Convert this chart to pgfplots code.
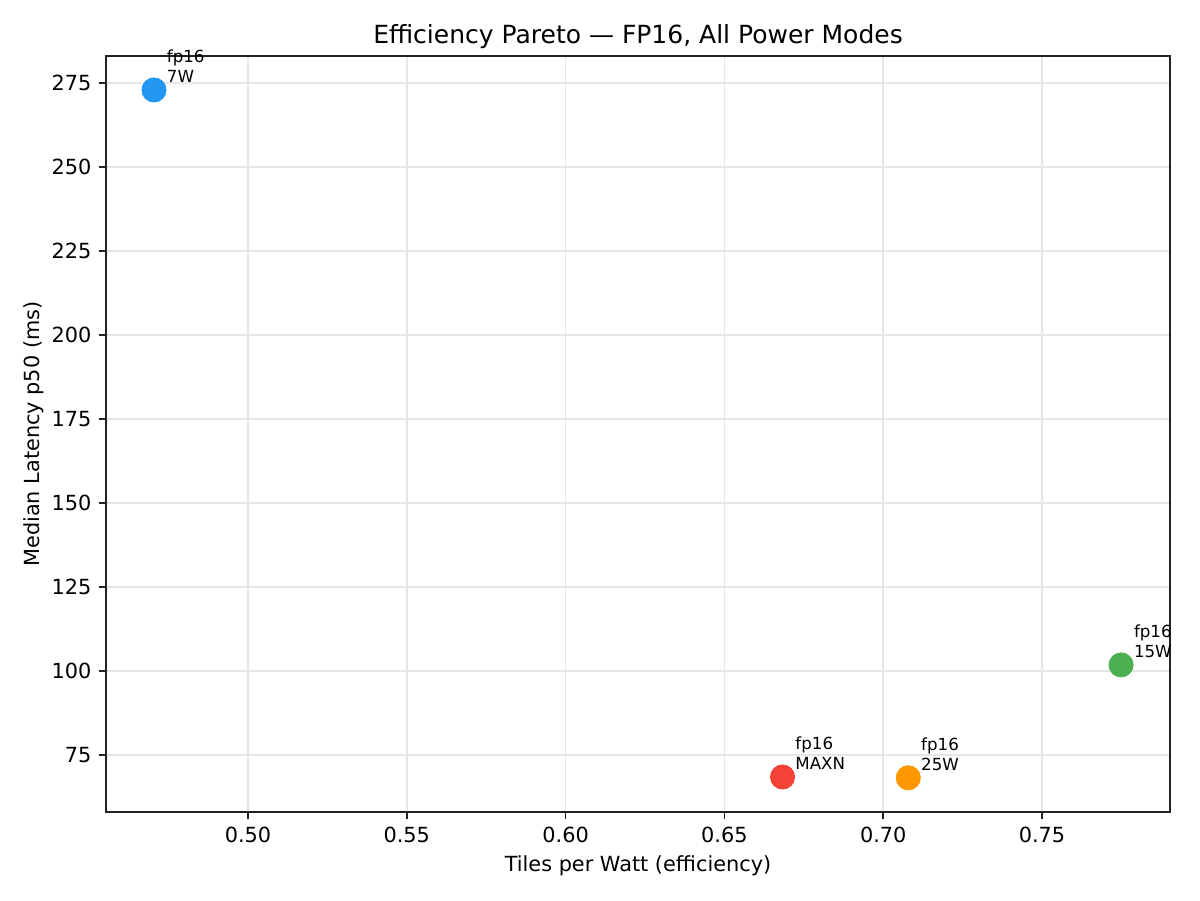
\documentclass[border=0pt]{standalone}
\usepackage{fontspec}
\setmainfont{DejaVu Sans}
\usepackage{pgfplots}
\pgfplotsset{compat=1.18}

\definecolor{c7w}{HTML}{2196F3}
\definecolor{cmaxn}{HTML}{F44336}
\definecolor{c25w}{HTML}{FF9800}
\definecolor{c15w}{HTML}{4CAF50}
\definecolor{spine}{HTML}{222222}
\definecolor{gridc}{HTML}{E6E6E6}

\tikzset{lab/.style={anchor=south west, inner sep=0pt, align=left,
    font=\fontsize{8}{9.6}\selectfont, xshift=6pt, yshift=3.4pt}}

\begin{document}
\begin{tikzpicture}
\begin{axis}[
  scale only axis,
  width=510.7pt, height=362.9pt,
  xmin=0.4553, xmax=0.7903,
  ymin=58.0, ymax=283.0,
  xtick={0.50,0.55,0.60,0.65,0.70,0.75},
  ytick={75,100,125,150,175,200,225,250,275},
  xticklabel style={/pgf/number format/fixed,/pgf/number format/fixed zerofill,/pgf/number format/precision=2},
  /pgf/number format/assume math mode=true,
  tick label style={font=\fontsize{10}{12}\selectfont},
  label style={font=\fontsize{10}{12}\selectfont},
  title style={font=\fontsize{12}{14}\selectfont, yshift=-6pt},
  title={Efficiency Pareto — FP16, All Power Modes},
  xlabel={Tiles per Watt (efficiency)},
  ylabel={Median Latency p50 (ms)},
  tick align=outside, tick pos=left,
  major tick length=3.5pt,
  every tick/.style={spine, line width=0.8pt},
  axis line style={spine, line width=0.8pt},
  grid=major,
  major grid style={gridc, line width=0.7pt},
  xlabel style={yshift=0.5pt},
  ylabel style={yshift=-3pt},
  clip=false,
]
% one marker per power mode (fp16)
\addplot[only marks, mark=*, mark size=5.8pt, color=c7w]
  coordinates {(0.4704, 272.9)};
\addplot[only marks, mark=*, mark size=5.8pt, color=cmaxn]
  coordinates {(0.6683, 68.45)};
\addplot[only marks, mark=*, mark size=5.8pt, color=c25w]
  coordinates {(0.7079, 68.2)};
\addplot[only marks, mark=*, mark size=5.8pt, color=c15w]
  coordinates {(0.7749, 101.8)};

\coordinate (sw) at (rel axis cs:0,0);
\coordinate (ne) at (rel axis cs:1,1);

\node[lab] at (axis cs:0.4704, 272.9) {fp16\\7W};
\node[lab] at (axis cs:0.6683, 68.45) {fp16\\MAXN};
\node[lab] at (axis cs:0.7079, 68.2) {fp16\\25W};
% the right-hand label is cut at the frame
\begin{scope}
  \clip (rel axis cs:0.9,0.1) rectangle (rel axis cs:1,0.4);
  \node[lab] at (axis cs:0.7749, 101.8) {fp16\\15W};
\end{scope}
\end{axis}
\path ([shift={(-50.9pt,-42.2pt)}]sw) rectangle ([shift={(14.4pt,26.9pt)}]ne);
\end{tikzpicture}
\end{document}
